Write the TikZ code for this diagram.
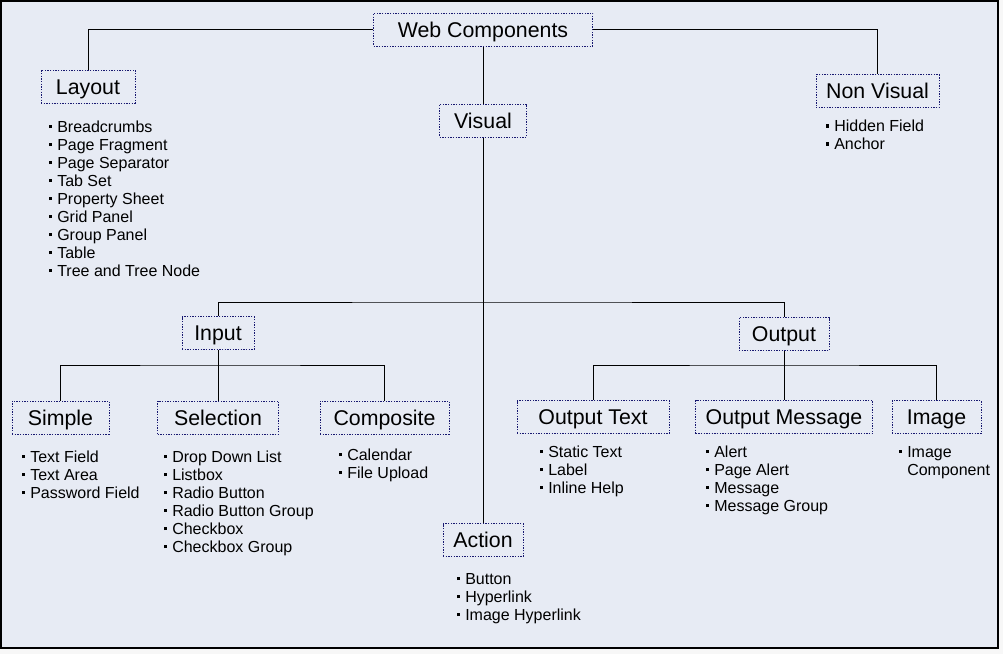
\documentclass[tikz,border=0pt]{standalone}
\usepackage{fontspec}
\setmainfont{Liberation Sans}
\usetikzlibrary{positioning}
\usetikzlibrary{calc}

\begin{document}
\begin{tikzpicture}[x=0.75pt, y=-0.75pt]
    \definecolor{panel}{RGB}{231,235,244}
\definecolor{border}{RGB}{24,24,112}
\colorlet{wire}{black}

\newcommand\sqbullet{\rule[3pt]{2.4pt}{2.4pt}\hspace{3.6pt}}

\tikzset{
    group box/.style={
        draw=border, line width=0.75pt,
        dash pattern=on 1pt off 1pt,
        rectangle, inner sep=0pt,
        minimum height=24.75pt,
        text height=11.5pt, text depth=0pt,
        font=\fontsize{16}{19}\selectfont,
    },
    entry/.style={
        anchor=base west, inner sep=0pt,
        font=\fontsize{12}{14}\selectfont,
    },
    wire line/.style={
        draw=wire, line width=0.75pt,
    },
}

    \useasboundingbox (0, 0) rectangle (1003, 654);
    \fill[white!97!black] (0, 0) rectangle (1003, 654);
    \draw[fill=panel, line width=1pt] (1, 1) rectangle (998, 648);

    % top level
    \node[group box, minimum width=164.25pt] at (483, 29.5) (web) {Web Components};
    \node[group box, minimum width=70.5pt] at (88, 86.5) (layout) {Layout};
    \node[group box, minimum width=92.25pt] at (877.5, 91) (nonvisual) {Non Visual};
    \node[group box, minimum width=65.25pt] at (483, 120.5) (visual) {Visual};

    % visual branch
    \node[group box, minimum width=54pt] at (218, 333) (input) {Input};
    \node[group box, minimum width=67.5pt] at (784, 334) (output) {Output};
    \node[group box, minimum width=60pt] at (483, 540) (action) {Action};

    \node[group box, minimum width=72.75pt] at (60.5, 417.5) (simple) {Simple};
    \node[group box, minimum width=90.75pt] at (218, 417.5) (selection) {Selection};
    \node[group box, minimum width=96.75pt] at (384.5, 417.5) (composite) {Composite};

    \node[group box, minimum width=114pt] at (593, 417) (outtext) {Output Text};
    \node[group box, minimum width=132.75pt] at (784, 417) (outmessage) {Output Message};
    \node[group box, minimum width=66.75pt] at (936.5, 417) (image) {Image};

    \coordinate (visual-bar) at (483, 302);
    \coordinate (input-bar) at (218, 365);
    \coordinate (output-bar) at (784, 365);

    \draw[wire line] (web.west) -| (layout.north);
    \draw[wire line] (web.east) -| (nonvisual.north);
    \draw[wire line] (web) -- (visual);
    \draw[wire line] (visual) -- (action);
    \draw[wire line] (input.north) |- (visual-bar) -| (output.north);
    \draw[wire line] (simple.north) |- (input-bar) -| (composite.north);
    \draw[wire line] (input) -- (selection);
    \draw[wire line] (outtext.north) |- (output-bar) -| (image.north);
    \draw[wire line] (output) -- (outmessage);

    % item lists
    \foreach \t [count=\i from 0] in {Breadcrumbs, Page Fragment, Page Separator,
        Tab Set, Property Sheet, Grid Panel, Group Panel, Table, Tree and Tree Node}
        \node[entry] (layout-\i) at (49, 132 + 18 * \i) {\sqbullet\t};

    \foreach \t [count=\i from 0] in {Hidden Field, Anchor}
        \node[entry] (nonvisual-\i) at (826, 131.5 + 18 * \i) {\sqbullet\t};

    \foreach \t [count=\i from 0] in {Text Field, Text Area, Password Field}
        \node[entry] (simple-\i) at (22, 462 + 18 * \i) {\sqbullet\t};

    \foreach \t [count=\i from 0] in {Drop Down List, Listbox, Radio Button,
        Radio Button Group, Checkbox, Checkbox Group}
        \node[entry] (selection-\i) at (164, 462 + 18 * \i) {\sqbullet\t};

    \foreach \t [count=\i from 0] in {Calendar, File Upload}
        \node[entry] (composite-\i) at (339, 460 + 18 * \i) {\sqbullet\t};

    \foreach \t [count=\i from 0] in {Static Text, Label, Inline Help}
        \node[entry] (outtext-\i) at (540, 457 + 18 * \i) {\sqbullet\t};

    \foreach \t [count=\i from 0] in {Alert, Page Alert, Message, Message Group}
        \node[entry] (outmessage-\i) at (706, 457 + 18 * \i) {\sqbullet\t};

    \node[entry] (image-0) at (899, 457) {\sqbullet Image};
    \node[entry] (image-1) at (907, 475) {Component};

    \foreach \t [count=\i from 0] in {Button, Hyperlink, Image Hyperlink}
        \node[entry] (action-\i) at (457, 584 + 18 * \i) {\sqbullet\t};
\end{tikzpicture}
\end{document}
